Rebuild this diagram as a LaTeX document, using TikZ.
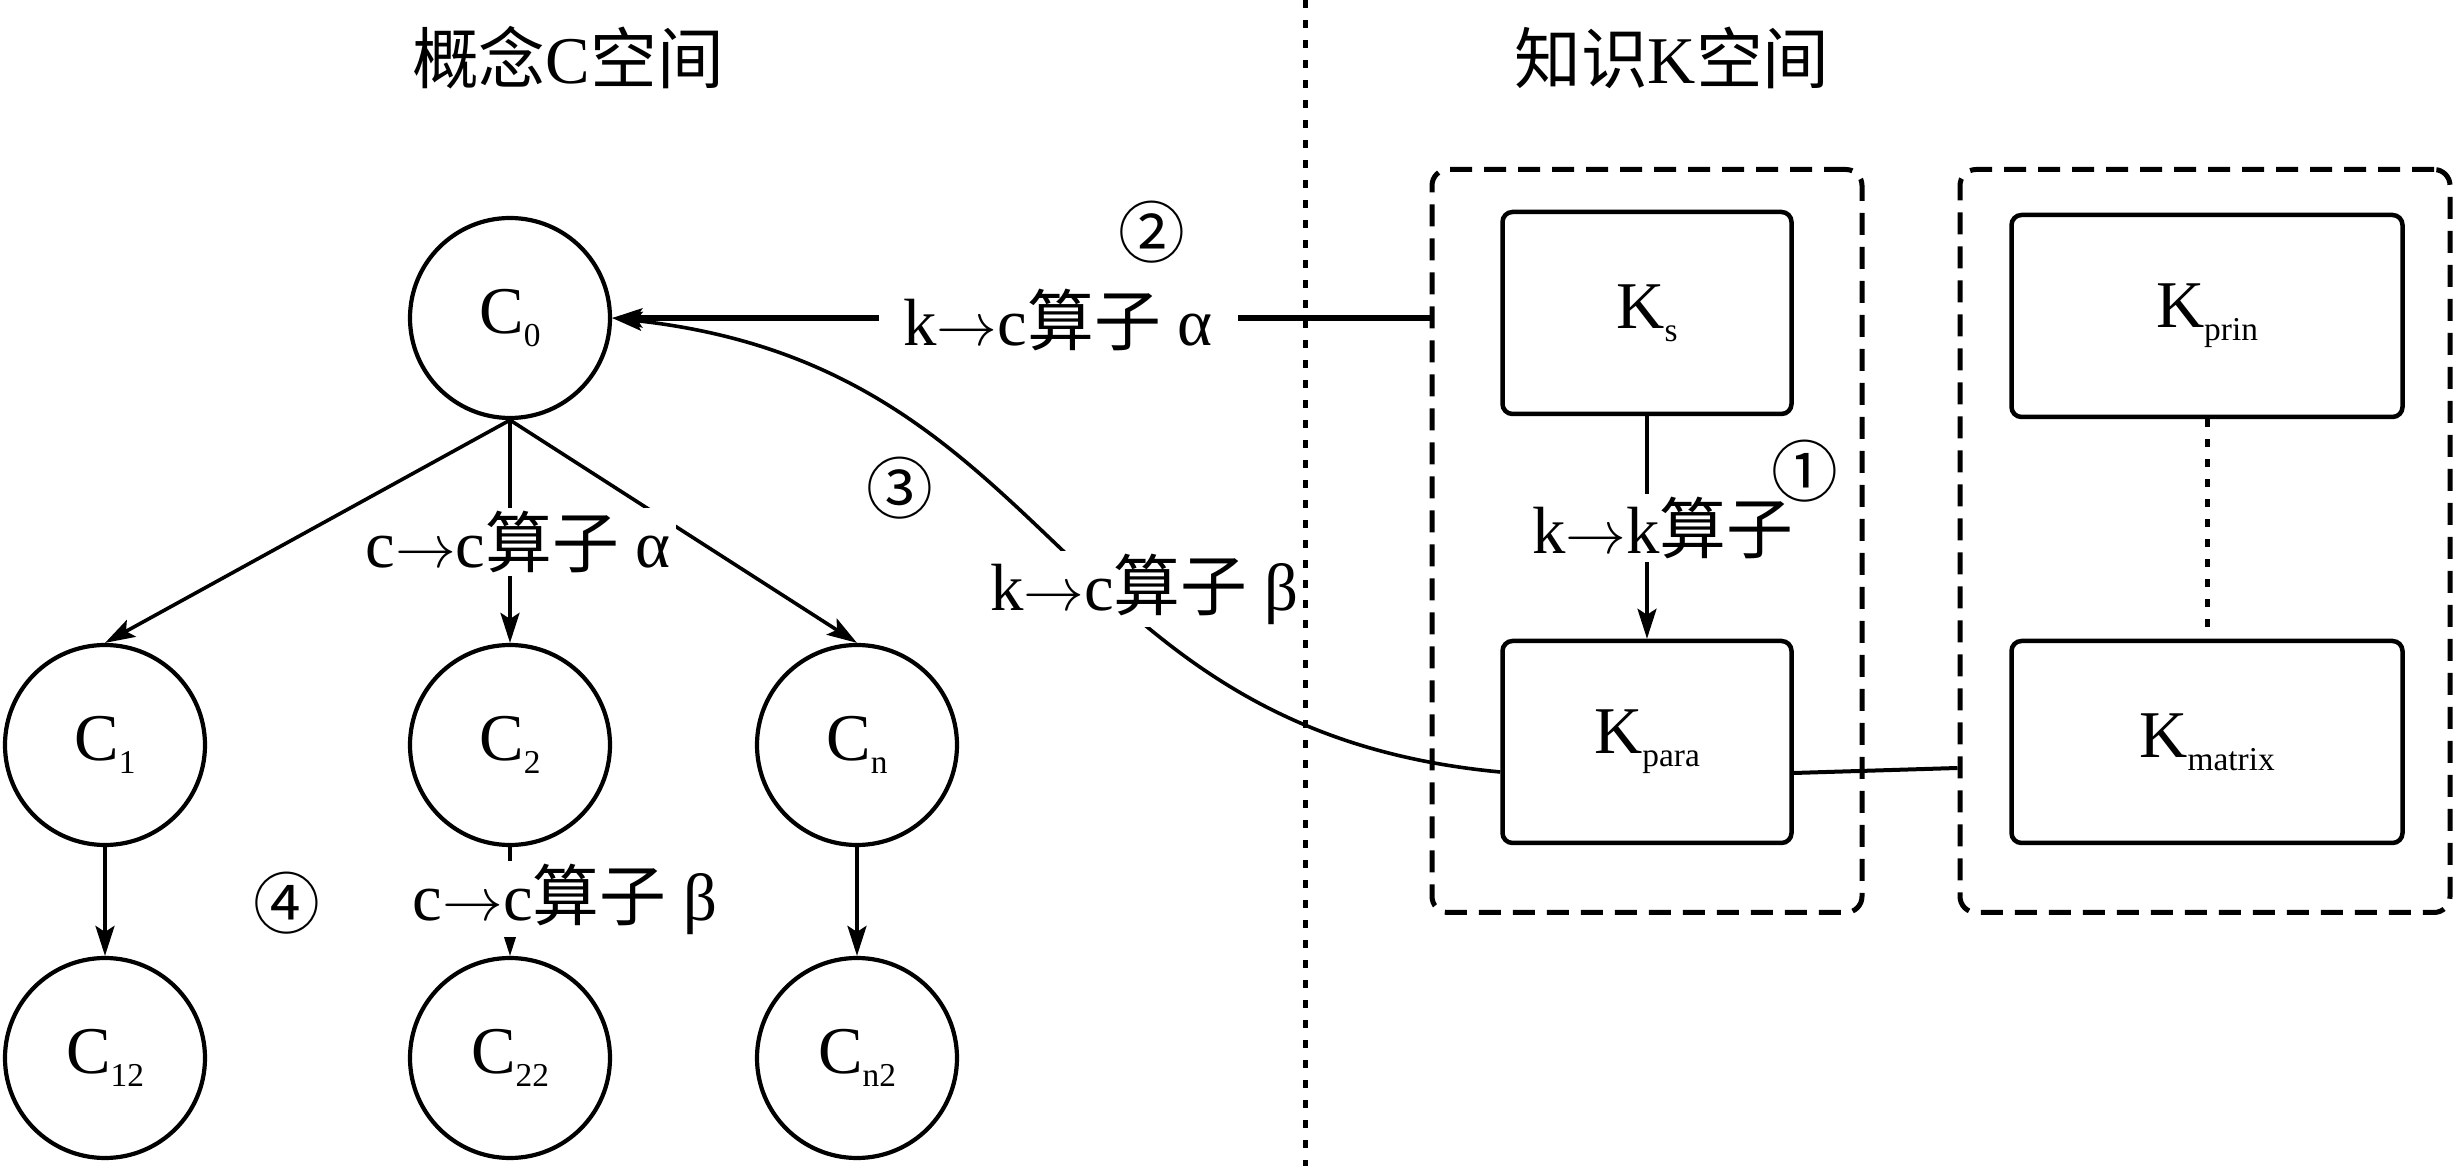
\documentclass[tikz,border=0pt]{standalone}
\usepackage{fontspec}
\setmainfont{Liberation Serif}
\newfontfamily\cjk{Noto Sans CJK SC}
\usetikzlibrary{arrows.meta}

\newcommand{\zh}[1]{{\cjk #1}}
\newcommand{\lowsub}[1]{\raisebox{-3.6pt}{\fontsize{9.5}{10}\selectfont #1}}

\tikzset{
  concept/.style={circle, draw, line width=0.42mm, minimum size=20mm, inner sep=0pt},
  kbox/.style={rectangle, rounded corners=1mm, draw, line width=0.45mm, minimum height=20.2mm},
  kgroup/.style={rectangle, rounded corners=1.6mm, draw, line width=0.5mm,
    dash pattern=on 2.2mm off 1.2mm, minimum width=43mm, minimum height=74.3mm},
  oplabel/.style={fill=white, inner xsep=0.5mm, inner ysep=0.3mm},
  oparrow/.style={-{Stealth[length=3mm,width=1.9mm,inset=0.6mm]}, line width=0.36mm},
  sepline/.style={line width=0.5mm, dash pattern=on 0.8mm off 1.2mm},
}

\begin{document}
\begin{tikzpicture}[x=0.1mm, y=-0.1mm, every node/.style={font=\fontsize{19}{21}\selectfont}]
  \useasboundingbox (0,0) rectangle (2456,1166);

  \node (ttlC) at (568,58) {\zh{概念}C\zh{空间}};
  \node (ttlK) at (1672,58) {\zh{知识}K\zh{空间}};
  \draw[sepline] (1305,0) -- (1305,1166);

  \node[concept] (C0) at (510,318) {C\lowsub{0}};
  \node[concept] (C1) at (105,745) {C\lowsub{1}};
  \node[concept] (C2) at (510,745) {C\lowsub{2}};
  \node[concept] (Cn) at (857,745) {C\lowsub{n}};
  \node[concept] (C12) at (105,1058) {C\lowsub{12}};
  \node[concept] (C22) at (510,1058) {C\lowsub{22}};
  \node[concept] (Cn2) at (857,1058) {C\lowsub{n2}};

  \node[kgroup] (grpA) at (1647,541) {};
  \node[kgroup, minimum width=49mm] (grpB) at (2205,541) {};
  \node[kbox, minimum width=28.9mm] (Ks) at (1647,313) {K\lowsub{s}};
  \node[kbox, minimum width=28.9mm] (Kpara) at (1647,742) {K\lowsub{para}};
  \node[kbox, minimum width=39.1mm] (Kprin) at (2207,316) {K\lowsub{prin}};
  \node[kbox, minimum width=39.1mm] (Kmatrix) at (2207,742) {K\lowsub{matrix}};

  \draw[oparrow] (C0.south) -- (C1.north);
  \draw[oparrow] (C0.south) -- (C2.north);
  \draw[oparrow] (C0.south) -- (Cn.north);
  \draw[oparrow] (C1) -- (C12);
  \draw[oparrow] (C2) -- (C22);
  \draw[oparrow] (Cn) -- (Cn2);
  \draw[oparrow] (Ks) -- (Kpara);
  \draw[sepline] (Kprin) -- (Kmatrix);
  \draw[oparrow, line width=0.55mm] (grpA.west |- C0.east) -- (C0.east);
  \draw[oparrow] ([yshift=-3mm]Kpara.west) .. controls (1052,730) and (1063,367) .. (C0.east);
  \draw[line width=0.4mm] ([yshift=-3.1mm]Kpara.east) -- ([yshift=-22.7mm]grpB.west);

  \node[oplabel] (opCCa) at (518,542) {c$\rightarrow$c\zh{算子} α};
  \node[oplabel] (opCCb) at (565,899) {c$\rightarrow$c\zh{算子} β};
  \node[oplabel, inner xsep=2.5mm] (opKCa) at (1058,320) {k$\rightarrow$c\zh{算子} α};
  \node[oplabel] (opKCb) at (1144,589) {k$\rightarrow$c\zh{算子} β};
  \node[oplabel] (opKK) at (1663,528) {k$\rightarrow$k\zh{算子}};

  \node (no1) at (1805,471) {\zh{①}};
  \node (no2) at (1152,232) {\zh{②}};
  \node (no3) at (900,488) {\zh{③}};
  \node (no4) at (287,903) {\zh{④}};
\end{tikzpicture}
\end{document}
